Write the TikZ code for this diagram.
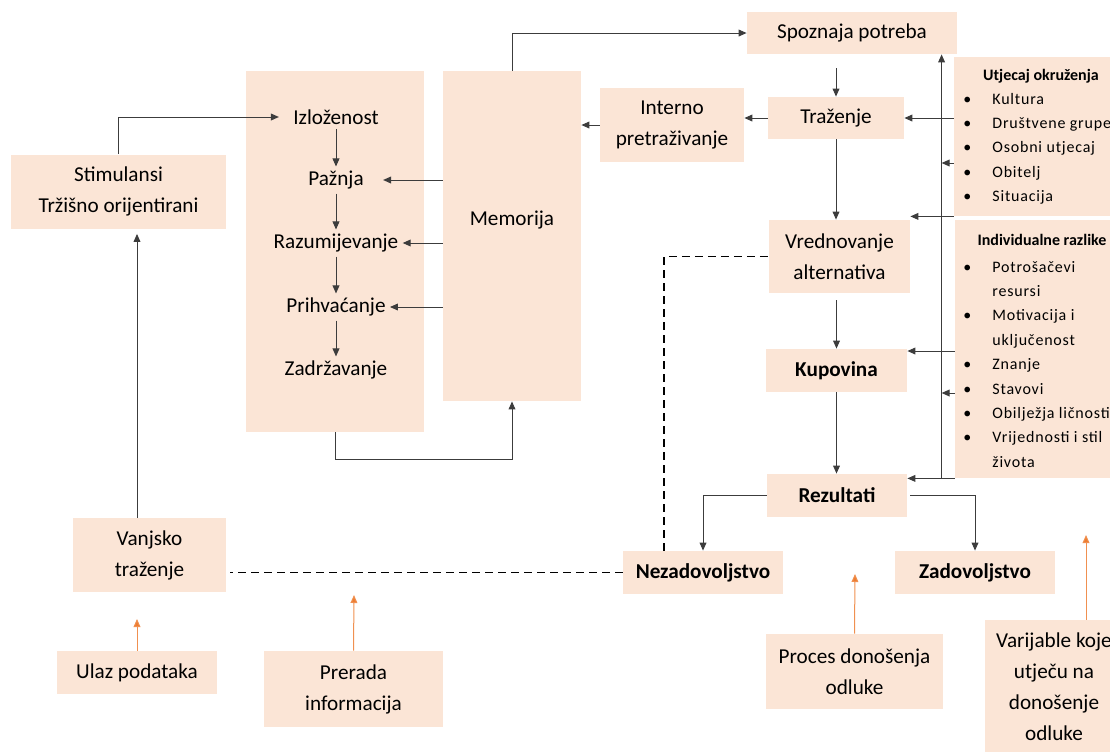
\documentclass[tikz,border=0pt]{standalone}
\usepackage{fontspec}
\setmainfont{Carlito}
\usetikzlibrary{arrows.meta}
\usetikzlibrary{positioning,calc}
\definecolor{peach}{RGB}{251,229,214}
\definecolor{lineGray}{RGB}{60,60,60}
\definecolor{inputOrange}{RGB}{237,125,49}

\begin{document}
\begin{tikzpicture}[x=0.5pt,y=-0.5pt,
      box/.style = {fill=peach, inner sep=0pt, align=center,
         font=\fontsize{10.6}{15.5}\selectfont},
      steptext/.style = {inner sep=2pt, font=\fontsize{10.6}{15.5}\selectfont},
      flow/.style = {draw=lineGray, line width=0.5pt,
         -{Triangle[length=4pt,width=3.4pt]}},
      dashlink/.style = {draw=black, line width=0.9pt,
         dash pattern=on 4pt off 2.5pt},
      inputarrow/.style = {draw=inputOrange!85, line width=0.5pt,
         -{Triangle[length=4pt,width=3.4pt,fill=inputOrange]}},
      sidetitle/.style = {inner sep=0pt, font=\fontsize{8}{12}\selectfont\bfseries},
      sidelist/.style = {inner sep=0pt,
         font=\fontsize{8}{12.2}\selectfont\addfontfeature{LetterSpace=5}}]

   \useasboundingbox (0,0) rectangle (1110,751);

   % input side
   \node[box, minimum width=107.5pt, minimum height=37pt] (stim) at (118.5,191.5)
      {Stimulansi\\Tržišno orijentirani};
   \node[box, minimum width=76.5pt, minimum height=37pt] (vanj) at (149.5,555)
      {Vanjsko\\traženje};
   \node[box, minimum width=80pt, minimum height=21.5pt] (ulaz) at (137,672.5)
      {Ulaz podataka};
   \node[box, minimum width=89.5pt, minimum height=38pt] (prer) at (353.5,689)
      {Prerada\\informacija};

   % information processing
   \node[box, minimum width=89pt, minimum height=180.5pt] (percep) at (335,251.5) {};
   \node[steptext] (izl)  at (336,117) {Izloženost};
   \node[steptext] (paz)  at (336,180) {Pažnja};
   \node[steptext] (raz)  at (336,243) {Razumijevanje};
   \node[steptext] (prih) at (336,307) {Prihvaćanje};
   \node[steptext] (zadr) at (336,370) {Zadržavanje};

   \node[box, minimum width=69pt, minimum height=165pt] (mem) at (512,236) {};
   \node[steptext] (memtxt) at (512,220) {Memorija};

   \node[box, minimum width=72pt, minimum height=37pt] (intern) at (672,125)
      {Interno\\pretraživanje};

   % decision process
   \node[box, minimum width=105pt, minimum height=21pt] (spoz) at (852,33)
      {Spoznaja potreba};
   \node[box, minimum width=68pt, minimum height=21pt] (traz) at (836,118)
      {Traženje};
   \node[box, minimum width=70.5pt, minimum height=36.5pt] (vred) at (839.5,256.5)
      {Vrednovanje\\alternativa};
   \node[box, minimum width=70.5pt, minimum height=21.5pt] (kup) at (836.5,370.5)
      {\bfseries Kupovina};
   \node[box, minimum width=70pt, minimum height=21.5pt] (rez) at (837,495.5)
      {\bfseries Rezultati};
   \node[box, minimum width=80pt, minimum height=21.5pt] (nezad) at (703,572.5)
      {\bfseries Nezadovoljstvo};
   \node[box, minimum width=80pt, minimum height=21.5pt] (zad) at (975,572.5)
      {\bfseries Zadovoljstvo};
   \node[box, minimum width=88.5pt, minimum height=37.5pt] (proc) at (854.5,671.5)
      {Proces donošenja\\odluke};
   \node[box, minimum width=69pt, minimum height=67pt] (varij) at (1054,687)
      {Varijable koje\\utječu na\\donošenje\\odluke};

   % influencing variables
   \node[box, minimum width=87pt, minimum height=79.5pt] (utj) at (1041,136.5) {};
   \node[sidetitle] (utjtitle) at (1041,76) {Utjecaj okruženja};
   \node[sidelist, anchor=base west] (utjlist) at (963,104)
      {\begin{tabular}[t]{@{}p{14.5pt}@{}l@{}}
       \textbullet & Kultura\\
       \textbullet & Društvene grupe\\
       \textbullet & Osobni utjecaj\\
       \textbullet & Obitelj\\
       \textbullet & Situacija
      \end{tabular}};

   \node[box, minimum width=86.5pt, minimum height=129pt] (indiv) at (1041.5,349) {};
   \node[sidetitle] (indivtitle) at (1042,240) {Individualne razlike};
   \node[sidelist, anchor=base west] (indivlist) at (963,272)
      {\begin{tabular}[t]{@{}p{14.5pt}@{}l@{}}
       \textbullet & Potrošačevi\\
                   & resursi\\
       \textbullet & Motivacija i\\
                   & uključenost\\
       \textbullet & Znanje\\
       \textbullet & Stavovi\\
       \textbullet & Obilježja ličnosti\\
       \textbullet & Vrijednosti i stil\\
                   & života
      \end{tabular}};

   % left connectors
   \coordinate (vanjtop) at ([xshift=-6.25pt]vanj.north);
   \draw[flow, shorten >=2.5pt] (vanjtop) -- (vanjtop |- stim.south);
   \draw[flow] (stim.north) |- ([xshift=-5pt]izl.west);
   \draw[flow] (izl) -- (paz);
   \draw[flow] (paz) -- (raz);
   \draw[flow] (raz) -- (prih);
   \draw[flow] (prih) -- (zadr);
   \draw[flow] (mem.west |- paz) -- ([xshift=7.5pt]paz.east);
   \draw[flow] (mem.west |- raz) -- (raz.east);
   \draw[flow] (mem.west |- prih) -- (prih.east);
   \draw[flow] (percep.south) -- ++(0,27) -| (mem.south);
   \draw[flow] (mem.north) |- (spoz.west);
   \draw[flow] (intern.west) -- (intern.west -| mem.east);
   \draw[flow] (traz.west) -- (traz.west -| intern.east);

   % main chain
   \draw[flow, shorten <=7pt] (traz.north |- spoz.south) -- (traz.north);
   \draw[flow] (traz.south) -- (traz.south |- vred.north);
   \draw[flow, shorten <=3.5pt] (kup.north |- vred.south) -- (kup.north);
   \draw[flow] (kup.south) -- (kup.south |- rez.north);
   \draw[flow] (rez.west) -| (nezad.north);
   \draw[flow] ([xshift=1.5pt]rez.east) -| (zad.north);

   % influences
   \coordinate (bus) at ($(indiv.south west)+(-13,0)$);
   \draw[flow] (bus) -- (bus |- spoz.south);
   \draw[flow] (utj.west |- traz) -- (traz.east);
   \draw[flow] ($(utj.west)+(0,26.5)$) -- ++(-12,0);
   \draw[flow] (utj.south west) -- (utj.south west -| vred.east);
   \coordinate (kupin) at ($(indiv.west)+(0,2)$);
   \draw[flow] (kupin) -- (kupin -| kup.east);
   \draw[flow] ($(indiv.west)+(0,44)$) -- ++(-13,0);
   \draw[flow] (indiv.south west) -- (indiv.south west -| rez.east);

   % feedback
   \draw[dashlink, shorten >=2pt] (nezad.west) -- (nezad.west -| vanj.east);
   \draw[dashlink] ([xshift=-19.5pt]nezad.north) |- (vred.west);

   % legend arrows
   \coordinate (ulazend)  at (137,619);
   \coordinate (prerend)  at (354,595);
   \coordinate (procend)  at (855,574);
   \coordinate (varijend) at (1086,535);
   \coordinate (varijtop) at ([xshift=16pt]varij.north);
   \draw[inputarrow] (ulaz.north) -- (ulazend);
   \draw[inputarrow] (prer.north) -- (prerend);
   \draw[inputarrow] (proc.north) -- (procend);
   \draw[inputarrow] (varijtop) -- (varijend);
\end{tikzpicture}
\end{document}
